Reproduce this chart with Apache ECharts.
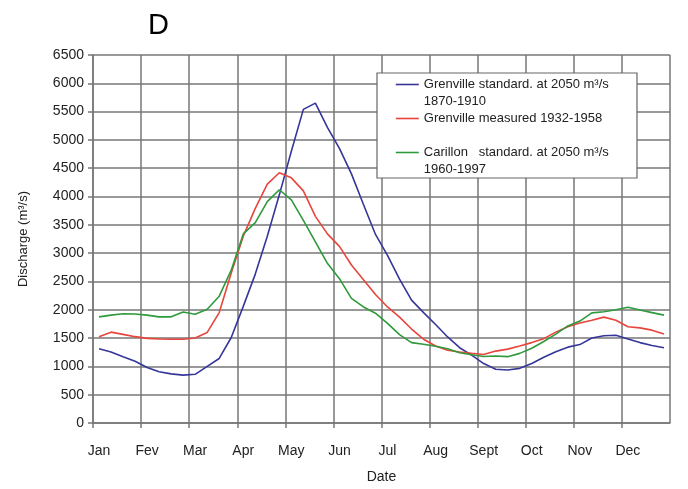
<!DOCTYPE html>
<html>
<head>
<meta charset="utf-8">
<script src="https://cdn.jsdelivr.net/npm/echarts@6/dist/echarts.min.js"></script>
<style>
  html, body { margin: 0; padding: 0; background: #fff; }
  #chart { width: 688px; height: 489px; }
</style>
</head>
<body>
<div id="chart"></div>
<script>
// Month labels along the date axis
const months = ['Jan', 'Fev', 'Mar', 'Apr', 'May', 'Jun', 'Jul', 'Aug', 'Sept', 'Oct', 'Nov', 'Dec'];

// Sample positions through the year, in months from 1 January
const samplePos = [
  0.125, 0.375, 0.625, 0.875, 1.125, 1.375, 1.625, 1.875,
  2.125, 2.375, 2.625, 2.875, 3.125, 3.375, 3.625, 3.875,
  4.125, 4.375, 4.625, 4.875, 5.125, 5.375, 5.625, 5.875,
  6.125, 6.375, 6.625, 6.875, 7.125, 7.375, 7.625, 7.875,
  8.125, 8.375, 8.625, 8.875, 9.125, 9.375, 9.625, 9.875,
  10.125, 10.375, 10.625, 10.875, 11.125, 11.375, 11.625, 11.875
];

// Grenville, standardized at 2050 m³/s, 1870-1910
const grenvilleStd = [
  1310, 1255, 1170, 1090, 980, 905, 868, 845,
  860, 1000, 1140, 1510, 2060, 2630, 3300, 4030,
  4800, 5540, 5650, 5220, 4850, 4400, 3860, 3330,
  2960, 2540, 2170, 1950, 1740, 1520, 1330, 1200,
  1050, 950, 935, 965, 1050, 1160, 1260, 1340,
  1385, 1500, 1540, 1550, 1485, 1420, 1370, 1330
];

// Grenville, measured 1932-1958
const grenvilleMeas = [
  1525, 1605, 1565, 1525, 1495, 1485, 1478, 1478,
  1500, 1600, 1950, 2650, 3300, 3790, 4220, 4420,
  4330, 4100, 3650, 3340, 3120, 2790, 2530, 2270,
  2050, 1870, 1660, 1480, 1360, 1285, 1255, 1232,
  1210, 1270, 1305, 1360, 1420, 1490, 1605, 1700,
  1765, 1815, 1870, 1815, 1700, 1680, 1640, 1570
];

// Carillon, standardized at 2050 m³/s, 1960-1997
const carillonStd = [
  1875, 1905, 1930, 1925, 1905, 1875, 1875, 1960,
  1920, 2010, 2240, 2700, 3340, 3540, 3910, 4120,
  3940, 3580, 3200, 2820, 2550, 2200, 2050, 1940,
  1760, 1560, 1420, 1390, 1355, 1310, 1240, 1205,
  1175, 1183, 1172, 1230, 1320, 1440, 1570, 1715,
  1800, 1945, 1965, 2000, 2045, 1995, 1950, 1905
];

const seriesNames = [
  'Grenville standard. at 2050 m³/s\n1870-1910',
  'Grenville measured 1932-1958',
  'Carillon   standard. at 2050 m³/s\n1960-1997'
];
const seriesColors = ['#36369a', '#e8453c', '#2f9a3c'];
const seriesValues = [grenvilleStd, grenvilleMeas, carillonStd];

const FONT = 'Liberation Sans, Arial, sans-serif';
const gridColor = '#777777';

const chart = echarts.init(document.getElementById('chart'), null, { renderer: 'canvas' });

chart.setOption({
  backgroundColor: '#ffffff',
  animation: false,
  title: {
    text: 'D',
    left: 143,
    top: 6,
    textStyle: { fontFamily: FONT, fontSize: 29, fontWeight: 'normal', color: '#000' }
  },
  grid: { left: 93, right: 18, top: 55, bottom: 64, containLabel: false },
  graphic: [{
    type: 'rect',
    z: 3,
    shape: { x: 377, y: 73, width: 260, height: 105 },
    style: { fill: '#ffffff', stroke: '#666666', lineWidth: 1.2 }
  }],
  legend: {
    orient: 'vertical',
    left: 395,
    top: 59,
    padding: 0,
    itemGap: 0,
    itemWidth: 23,
    itemHeight: 12,
    itemStyle: { opacity: 0 },
    lineStyle: { width: 1.6 },
    textStyle: { fontFamily: FONT, fontSize: 13, color: '#222', lineHeight: 17 },
    // two-line entries get a blank leading line so the key line sits beside the first line
    formatter: name => (name.indexOf('\n') >= 0 ? ' \n' + name : name),
    data: seriesNames
  },
  xAxis: {
    type: 'value',
    min: 0,
    max: 12,
    interval: 1,
    name: 'Date',
    nameLocation: 'middle',
    nameGap: 47,
    nameTextStyle: { fontFamily: FONT, fontSize: 14, color: '#222' },
    axisLine: { show: true, lineStyle: { color: gridColor, width: 1.5 } },
    axisTick: { show: true, inside: false, length: 5, lineStyle: { color: gridColor, width: 1.5 } },
    axisLabel: {
      fontFamily: FONT, fontSize: 14, color: '#222', margin: 21,
      padding: [0, 0, 0, 12],
      showMaxLabel: false,
      formatter: v => (v >= 0 && v < 12 ? months[v] : '')
    },
    splitLine: { show: true, lineStyle: { color: gridColor, width: 1.5 } }
  },
  yAxis: {
    type: 'value',
    min: 0,
    max: 6500,
    interval: 500,
    name: 'Discharge (m³/s)',
    nameLocation: 'middle',
    nameRotate: 90,
    nameGap: 63,
    nameTextStyle: { fontFamily: FONT, fontSize: 13, color: '#222' },
    axisLine: { show: true, lineStyle: { color: gridColor, width: 1.5 } },
    axisTick: { show: true, inside: false, length: 5, lineStyle: { color: gridColor, width: 1.5 } },
    axisLabel: { fontFamily: FONT, fontSize: 14, color: '#222', margin: 9, formatter: v => String(v) },
    splitLine: { show: true, lineStyle: { color: gridColor, width: 1.5 } }
  },
  series: seriesValues.map((vals, i) => ({
    name: seriesNames[i],
    type: 'line',
    symbol: 'none',
    smooth: false,
    z: 2,
    color: seriesColors[i],
    lineStyle: { color: seriesColors[i], width: 1.6 },
    data: samplePos.map((x, k) => [x, vals[k]])
  }))
});
</script>
</body>
</html>
